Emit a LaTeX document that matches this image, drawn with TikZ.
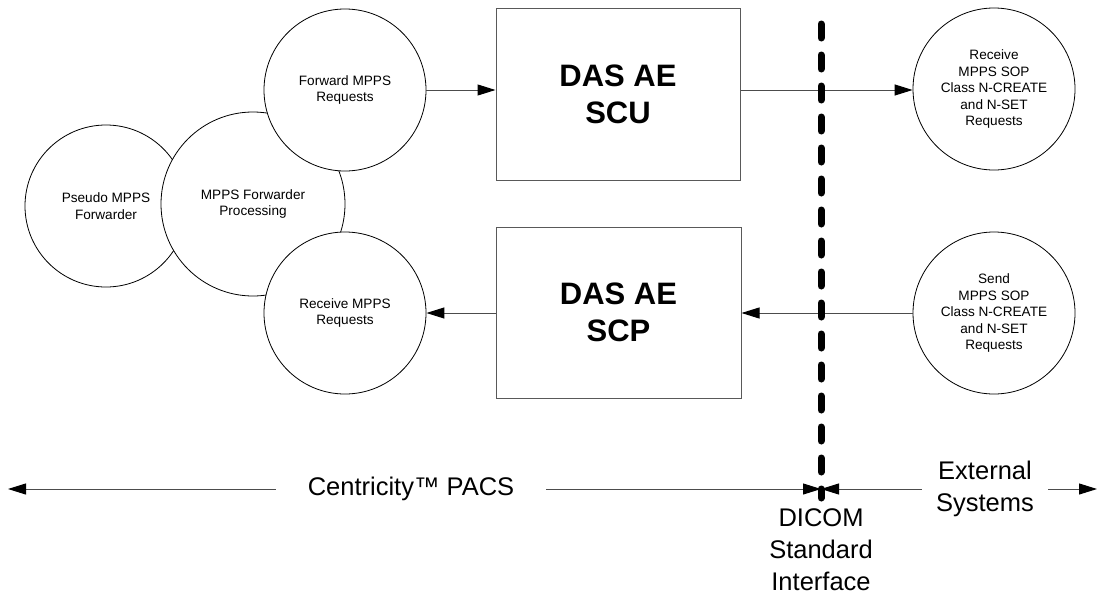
\documentclass[tikz,border=0pt]{standalone}
\usepackage{fontspec}
\setmainfont{Liberation Sans}
\usetikzlibrary{arrows.meta}
\begin{document}
\begin{tikzpicture}[x=1pt,y=-1pt,
  bub/.style={circle,draw=black,line width=0.8pt,fill=white,minimum size=162pt,inner sep=0pt,align=center,font=\fontsize{13.6}{16.5}\selectfont},
  blk/.style={rectangle,draw=black!65,line width=1pt,fill=white,inner sep=0pt,align=center,font=\fontsize{31}{37}\selectfont\bfseries},
  conn/.style={draw=black!70,line width=1pt},
  arr/.style={conn,-{Triangle[length=18pt,width=11pt,color=black]}},
  lbl/.style={align=center,inner sep=0pt,font=\fontsize{25.5}{32}\selectfont},
  bound/.style={line width=7pt,line cap=round,dash pattern=on 14pt off 17pt}
]
\useasboundingbox (0,0) rectangle (1097,605);
% left cluster
\node[bub] (pseudo) at (106,206) {Pseudo MPPS\\Forwarder};
\node[bub,minimum size=184pt] (proc) at (253,204) {MPPS Forwarder\\Processing};
\node[bub] (fwd) at (345,90) {Forward MPPS\\Requests};
\node[bub] (recv) at (345,313) {Receive MPPS\\Requests};
% boxes
\node[blk,minimum width=244pt,minimum height=172pt] (scu) at (618,94) {DAS AE\\SCU};
\node[blk,minimum width=245pt,minimum height=171pt] (scp) at (618.5,312.5) {DAS AE\\SCP};
% right circles
\node[bub] (rtop) at (994,89) {Receive\\MPPS SOP\\Class N-CREATE\\and N-SET\\Requests};
\node[bub] (rbot) at (994,313) {Send\\MPPS SOP\\Class N-CREATE\\and N-SET\\Requests};
% connectors
\draw[arr] (fwd.east) -- (fwd.east -| scu.west);
\draw[arr] (fwd.east -| scu.east) -- (fwd.east -| rtop.west);
\draw[arr] (recv.east -| rbot.west) -- (recv.east -| scp.east);
\draw[arr] (recv.east -| scp.west) -- (recv.east);
% bottom labels
\coordinate (ltip) at (8,489);
\coordinate (mid) at (821,489);
\coordinate (rtip) at (1097,489);
\node[lbl,inner xsep=32pt] (pacs) at (411,489) {Centricity™ PACS};
\node[lbl,inner xsep=14pt] (ext) at (985,489) {External\\Systems};
\node[lbl,anchor=north] (dicom) at (821,508) {DICOM\\Standard\\Interface};
\draw[arr] (pacs.west) -- (ltip);
\draw[arr] (pacs.east) -- (mid);
\draw[arr] (ext.west) -- (mid);
\draw[arr] (ext.east) -- (rtip);
% boundary
\coordinate (dtop) at (821,24);
\coordinate (dbot) at (821,498);
\draw[bound] (dtop) -- (dbot);
\end{tikzpicture}
\end{document}
